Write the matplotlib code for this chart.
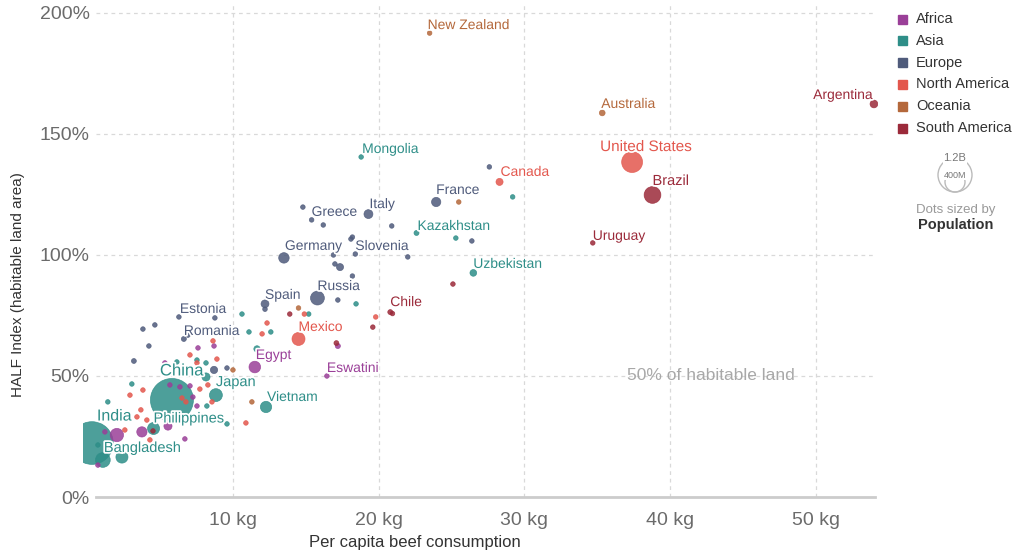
import numpy as np
import matplotlib.pyplot as plt
import matplotlib.patheffects as pe
from matplotlib.patches import Rectangle, Circle

plt.rcParams['font.family'] = ['Liberation Sans', 'DejaVu Sans']

# continent colours
colors = {
    'Africa': '#9a3f98',
    'Asia': '#2e8e88',
    'Europe': '#4f5b7b',
    'North America': '#e3574d',
    'Oceania': '#b4683b',
    'South America': '#9b2a3a',
}

# per capita beef (kg), HALF index (%), population (millions), label
africa_x = [11.5, 16.45, 2.03, 3.75, 5.54, 6.7, 0.73, 1.21, 17.2, 8.70, 7.60, 5.67, 6.36, 7.05, 7.25, 7.53, 5.33]
africa_y = [53.7, 50.0, 25.6, 26.9, 29.3, 24.0, 13.2, 26.9, 62.4, 62.4, 61.6, 46.3, 45.5, 45.9, 41.3, 37.6, 55.4]
africa_pop = [102, 1.2, 135, 80, 50, 10, 10, 15, 20, 8, 12, 15, 12, 10, 12, 10, 8]
africa_names = ['Egypt', 'Eswatini'] + [''] * 15

asia_x = [5.81, 0.32, 1.07, 2.38, 4.55, 8.83, 12.27, 18.8, 22.6, 26.5,
          29.2, 25.3, 18.45, 15.2, 12.6, 11.1, 10.62, 11.65, 8.15, 8.21, 9.59, 3.06, 1.41, 0.73, 8.15, 6.15, 7.53]
asia_y = [40.1, 22.3, 15.3, 16.5, 28.3, 42.1, 37.2, 140.5, 109.1, 92.6,
          124.0, 107.0, 79.8, 75.6, 68.2, 68.2, 75.6, 61.2, 55.4, 37.6, 30.2, 46.7, 39.3, 21.5, 49.6, 55.8, 56.6]
asia_pop = [1400, 1380, 165, 110, 110, 126, 97, 3, 19, 34,
            5, 5, 5, 5, 6, 6, 5, 30, 8, 6, 5, 5, 5, 5, 50, 6, 6]
asia_names = ['China', 'India', 'Bangladesh', '', 'Philippines', 'Japan', 'Vietnam', 'Mongolia',
              'Kazakhstan', 'Uzbekistan'] + [''] * 17

europe_x = [23.95, 19.3, 15.4, 13.5, 18.4, 15.8, 12.2, 6.29, 6.63,
            14.8, 16.2, 20.9, 18.2, 18.1, 16.9, 22.0, 17.0, 17.35, 18.2, 17.2, 27.6, 26.4,
            3.82, 4.64, 4.23, 3.20, 8.76, 6.91, 8.70, 9.59, 12.2]
europe_y = [121.9, 116.9, 114.5, 98.8, 100.4, 82.2, 79.8, 74.4, 65.3,
            119.8, 112.4, 112.0, 107.4, 106.6, 100.0, 99.2, 96.3, 95.0, 91.3, 81.4, 136.4, 105.8,
            69.4, 71.1, 62.4, 56.2, 74.0, 66.9, 52.5, 53.3, 77.6]
europe_pop = [65, 60, 10, 83, 2, 145, 47, 1.3, 19,
              4, 4, 4, 4, 4, 3, 4, 4, 38, 3, 4, 4, 5,
              4, 4, 4, 18, 4, 4, 40, 5, 5]
europe_names = ['France', 'Italy', 'Greece', 'Germany', 'Slovenia', 'Russia', 'Spain',
                'Estonia', 'Romania'] + [''] * 22

namerica_x = [37.4, 14.5, 28.3, 19.8, 14.9, 12.34, 12.0, 8.63, 8.90, 8.28, 7.73, 6.50, 6.77,
              8.56, 10.89, 3.68, 3.41, 4.09, 4.30, 2.93, 3.82, 2.58, 7.53, 7.05]
namerica_y = [138.4, 65.3, 130.2, 74.4, 75.6, 71.9, 67.4, 64.5, 57.0, 46.3, 44.6, 40.9, 39.3,
              39.3, 30.6, 36.0, 33.1, 31.8, 23.6, 42.1, 44.2, 27.7, 55.4, 58.7]
namerica_pop = [330, 128, 38] + [5] * 21
namerica_names = ['United States', 'Mexico', 'Canada'] + [''] * 21

samerica_x = [38.8, 54.0, 34.7, 20.8, 25.1, 17.1, 19.6, 13.9, 4.51, 20.95]
samerica_y = [124.8, 162.4, 105.0, 76.4, 88.0, 63.6, 70.2, 75.6, 27.3, 75.8]
samerica_pop = [212, 45, 3.5, 19, 8, 18, 4, 4, 6, 4]
samerica_names = ['Brazil', 'Argentina', 'Uruguay', 'Chile'] + [''] * 6

oceania_x = [23.5, 35.35, 25.5, 14.5, 10.0, 11.3]
oceania_y = [191.7, 158.7, 121.9, 78.1, 52.5, 39.3]
oceania_pop = [5, 25, 4, 4, 4, 5]
oceania_names = ['New Zealand', 'Australia'] + [''] * 4

# label offsets in pixels from the dot (dx, dy), font size
label_style = {
    'New Zealand': (-2, 8, 10), 'Australia': (-1, 9, 10), 'Argentina': (-1, 9, 10),
    'United States': (-32, 15, 11), 'Brazil': (0, 14, 10.5), 'Canada': (1, 10, 10),
    'Uruguay': (0, 7, 10), 'Mongolia': (1, 8, 10), 'France': (0, 12, 10), 'Italy': (1, 10, 10),
    'Greece': (0, 8, 10), 'Kazakhstan': (1, 7, 10), 'Germany': (1, 12, 10), 'Slovenia': (0, 8, 10),
    'Uzbekistan': (0, 9, 10), 'Russia': (0, 12, 10), 'Spain': (0, 9, 10), 'Chile': (0, 10, 10),
    'Estonia': (1, 8, 10), 'Romania': (0, 8, 10), 'Mexico': (0, 12, 10), 'Egypt': (1, 12, 10),
    'Eswatini': (0, 8, 10), 'Japan': (0, 13, 10.5), 'China': (-12, 29, 12), 'Vietnam': (1, 10, 10),
    'India': (5, 27, 11.5), 'Philippines': (0, 10, 10.5), 'Bangladesh': (1, 12, 10.5),
}

continents = [
    ('Africa', africa_x, africa_y, africa_pop, africa_names),
    ('Asia', asia_x, asia_y, asia_pop, asia_names),
    ('Europe', europe_x, europe_y, europe_pop, europe_names),
    ('North America', namerica_x, namerica_y, namerica_pop, namerica_names),
    ('Oceania', oceania_x, oceania_y, oceania_pop, oceania_names),
    ('South America', samerica_x, samerica_y, samerica_pop, samerica_names),
]

W, H = 1019, 554
fig = plt.figure(figsize=(W / 100, H / 100), dpi=100)
ax = fig.add_axes([82.9 / W, 57 / H, 795.4 / W, 493.7 / H])
ax.set_xlim(-0.3, 54.3)
ax.set_ylim(0, 204)


def radius_px(p):
    return np.maximum(2.3, 21.5 * np.sqrt(np.asarray(p, dtype=float) / 1400))


# all points, biggest first so small dots sit on top
rows = []
for cont, xs, ys, pops, names in continents:
    for x, y, p, n in zip(xs, ys, pops, names):
        rows.append((cont, x, y, p, n))
rows.sort(key=lambda r: -r[3])

xs = np.array([r[1] for r in rows])
ys = np.array([r[2] for r in rows])
rad = radius_px([r[3] for r in rows])
cols = [colors[r[0]] for r in rows]
ax.scatter(xs, ys, s=(2 * rad * 0.72) ** 2, c=cols, alpha=0.85,
           edgecolors=cols, linewidths=0.5, zorder=3)

halo = [pe.withStroke(linewidth=2.5, foreground='white')]
for cont, x, y, p, n in rows:
    if not n:
        continue
    dx, dy, fs = label_style[n]
    ha = 'right' if n == 'Argentina' else 'left'
    ax.annotate(n, (x, y), xytext=(dx, dy), textcoords='offset pixels',
                ha=ha, va='center', fontsize=fs, color=colors[cont],
                path_effects=halo, zorder=5)

# grid
for gx in [10, 20, 30, 40, 50]:
    ax.plot([gx, gx], [0, 204], color='#d9d9d9', lw=0.9, ls=(0, (3, 3)), zorder=1)
for gy in [50, 100, 150, 200]:
    ax.plot([0.6, 54.1], [gy, gy], color='#d9d9d9', lw=0.9, ls=(0, (3, 3)), zorder=1)

ax.text(42.8, 50, '50% of habitable land', color='#a8a8a8', fontsize=12.5,
        ha='center', va='center', zorder=2)

for s in ['top', 'right', 'left']:
    ax.spines[s].set_visible(False)
ax.spines['bottom'].set_bounds(0.6, 54.1)
ax.spines['bottom'].set_color('#cccccc')
ax.spines['bottom'].set_linewidth(2)

ax.set_xticks([10, 20, 30, 40, 50])
ax.set_xticklabels([f'{v} kg' for v in [10, 20, 30, 40, 50]])
ax.set_yticks([0, 50, 100, 150, 200])
ax.set_yticklabels([f'{v}%' for v in [0, 50, 100, 150, 200]])
ax.tick_params(axis='both', length=0, labelsize=14, labelcolor='#6b6b6b')
ax.tick_params(axis='x', pad=11)
ax.tick_params(axis='y', pad=-5)

ax.set_xlabel('Per capita beef consumption', fontsize=12, color='#333333')
ax.xaxis.set_label_coords((415 - 82.9) / 795.4, (497 - 543) / 493.7)
ax.xaxis.label.set_va('center')
ax.set_ylabel('HALF Index (habitable land area)', fontsize=11, color='#333333')
ax.yaxis.set_label_coords((18 - 82.9) / 795.4, (497 - 285) / 493.7)
ax.yaxis.label.set_va('center')

# legend drawn in pixel space
lg = fig.add_axes([0, 0, 1, 1], zorder=10)
lg.set_xlim(0, W)
lg.set_ylim(H, 0)
lg.axis('off')
for i, cont in enumerate(colors):
    yy = 19 + i * 21.8
    lg.add_patch(Rectangle((898, yy - 4.5), 9, 9, color=colors[cont]))
    lg.text(916, yy, cont, fontsize=10.5, color='#333333', va='center', ha='left')

lg.add_patch(Circle((955, 175), 17, fill=False, ec='#bbbbbb', lw=1))
lg.add_patch(Circle((955, 182), 10, fill=False, ec='#bbbbbb', lw=1))
lg.text(955, 158, '1.2B', fontsize=8, color='#777777', ha='center', va='center',
        bbox=dict(fc='white', ec='none', pad=0.5))
lg.text(955, 175, '400M', fontsize=6.5, color='#777777', ha='center', va='center',
        bbox=dict(fc='white', ec='none', pad=0.3))
lg.text(956, 210, 'Dots sized by', fontsize=9.5, color='#999999', ha='center', va='center')
lg.text(956, 225, 'Population', fontsize=10.5, color='#333333', ha='center', va='center',
        fontweight='bold')

fig.savefig('out.png', dpi=100)
